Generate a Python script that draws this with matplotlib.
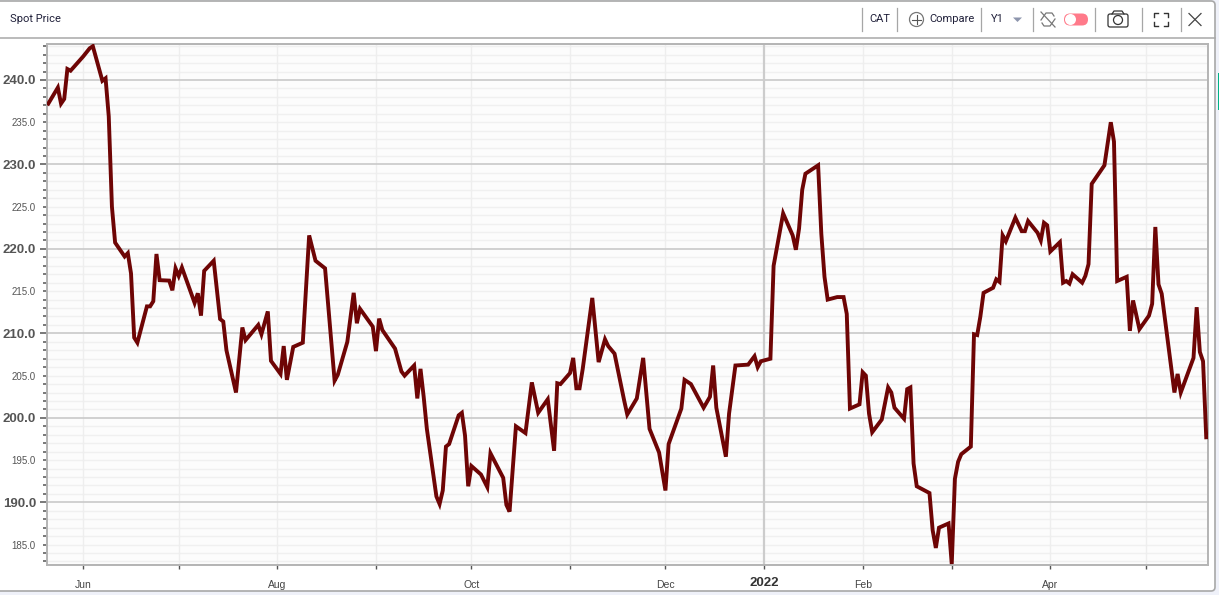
import matplotlib
matplotlib.use('Agg')
from matplotlib import pyplot as plt
from matplotlib.patches import FancyBboxPatch, Circle, Rectangle
import pandas as pd

# days counted from 2021-06-01
day_offsets = [-11, -8, -7, -6, -5, -4, 0, 2, 3, 6, 7, 8, 9, 10, 13, 14, 15, 16, 17, 20, 21, 22, 23, 24,
               27, 28, 29, 30, 31, 35, 36, 37, 38, 41, 43, 44, 45, 48, 50, 51, 55, 56, 58, 59, 62, 63, 64,
               66, 69, 71, 73, 76, 79, 80, 83, 85, 86, 87, 91, 92, 93, 94, 98, 100, 101, 104, 105, 106,
               107, 108, 111, 112, 113, 114, 115, 118, 119, 120, 121, 122, 125, 127, 128, 132, 133, 134,
               136, 139, 141, 143, 146, 148, 149, 150, 153, 154, 155, 156, 157, 160, 162, 164, 165, 167,
               170, 171, 174, 176, 178, 181, 183, 184, 188, 189, 191, 195, 197, 198, 199, 202, 203, 205,
               209, 211, 212, 213, 216, 217, 220, 223, 224, 225, 226, 227, 231, 232, 233, 234, 237, 239,
               240, 241, 244, 245, 246, 247, 248, 251, 253, 254, 255, 258, 259, 260, 261, 262, 266, 267,
               268, 269, 272, 273, 274, 275, 276, 279, 280, 281, 282, 283, 286, 287, 288, 289, 290, 293,
               295, 296, 297, 300, 301, 302, 303, 304, 307, 308, 309, 310, 311, 314, 315, 316, 317, 321,
               323, 324, 325, 328, 329, 330, 332, 335, 336, 337, 338, 339, 343, 344, 345, 349, 350, 351,
               352, 353]
prices = [237.2, 239.1, 237.2, 237.75, 241.3, 241.1, 242.8, 243.75, 244.0, 239.9, 240.2, 235.7, 225.0, 220.75,
          219.1, 219.5, 217.1, 209.5, 208.9, 213.2, 213.2, 213.8, 219.4, 216.3,
          216.25, 215.1, 217.7, 216.8, 217.8, 213.6, 214.75, 212.1, 217.4, 218.6, 211.7, 211.4, 208.0, 203.0,
          210.7, 209.2, 211.0, 209.9, 212.6, 206.75, 205.2, 208.5, 204.5,
          208.4, 208.9, 221.6, 218.6, 217.7, 204.4, 205.1, 209.0, 214.8, 211.2, 212.9, 210.8, 207.9, 211.75,
          210.4, 208.2, 205.5, 205.0, 206.2, 202.3, 205.8,
          202.5, 198.7, 190.7, 189.8, 191.4, 196.6, 196.9, 200.3, 200.6, 197.9, 191.9, 194.3, 193.3, 191.8,
          195.8, 192.9, 189.7, 188.9,
          199.0, 198.2, 204.2, 200.6, 202.2, 196.1, 204.1, 204.0, 205.3, 207.1, 203.5, 203.5, 205.8, 214.2,
          206.6, 209.3, 208.5, 207.6,
          202.1, 200.4, 202.3, 207.1, 198.7, 195.9, 191.4, 196.9, 201.1, 204.5, 204.0, 201.2, 202.5, 206.2,
          201.2, 195.4, 200.5, 206.2,
          206.3, 207.3, 206.0, 206.7, 207.0, 218.0, 224.2, 221.6, 219.9, 222.4, 227.0, 228.9, 229.9, 221.8,
          216.7, 214.0, 214.3, 214.3,
          212.3, 201.1, 201.6, 205.4, 205.0, 200.5, 198.3, 199.8, 203.6, 203.0, 201.2, 199.9, 203.4, 203.6,
          194.6, 191.9, 191.1, 186.7,
          184.6, 187.0, 187.5, 182.7, 192.8, 194.8, 195.7, 196.6, 209.9, 209.8, 212.0, 214.8, 215.4, 216.4,
          216.1, 221.6, 220.9, 223.7,
          222.1, 222.1, 223.3, 221.9, 221.0, 223.1, 222.8, 219.7, 220.8, 216.0, 216.2, 215.9, 217.0, 216.0,
          216.8, 218.2, 227.7, 229.9,
          235.0, 232.7, 216.2, 216.7, 210.3, 213.9, 210.5, 212.1, 213.5, 222.6, 215.8, 214.7, 203.0, 205.2,
          203.0, 207.1, 213.1, 207.8,
          206.7, 197.7]
month_ticks = ['2021-06-01', '2021-07-01', '2021-08-01', '2021-09-01', '2021-10-01', '2021-11-01',
               '2021-12-01', '2022-01-01', '2022-02-01', '2022-03-01', '2022-04-01', '2022-05-01']
month_labels = ['Jun', '', 'Aug', '', 'Oct', '', 'Dec', '2022', 'Feb', '', 'Apr', '']
y_ticks = [185, 190, 195, 200, 205, 210, 215, 220, 225, 230, 235, 240]

W, H = 1219, 595
FONT = ['Liberation Sans', 'DejaVu Sans']
start = pd.Timestamp('2021-06-01')
dates = start + pd.to_timedelta(day_offsets, unit='D')
months = pd.to_datetime(month_ticks)

fig = plt.figure(figsize=(W / 100, H / 100), dpi=100, facecolor='#eff1f9')

# panel and header drawn in pixel coordinates
bg = fig.add_axes([0, 0, 1, 1])
bg.set_xlim(0, W)
bg.set_ylim(H, 0)
bg.axis('off')
bg.add_patch(FancyBboxPatch((-8, 1), 1223, 590, boxstyle='round,pad=0,rounding_size=4',
                            fc='white', ec='#a8a8a8', lw=1.2))
bg.plot([0, 1215], [37.5, 37.5], color='#a8a8a8', lw=1.1)
bg.add_patch(Rectangle((1217.5, 73), 1.5, 37, color='#00b386', lw=0))

for x in [862, 897, 981, 1033, 1095, 1142, 1181]:
    bg.plot([x, x], [8, 31], color='#a6a6a6', lw=0.9)

bg.text(10, 19.5, 'Spot Price', fontsize=8, family='Roboto', color='#20203a', va='center')
bg.text(869, 19.5, 'CAT', fontsize=8, family='Roboto', color='#20203a', va='center')
bg.text(929, 19.5, 'Compare', fontsize=8, family='Roboto', color='#20203a', va='center')
bg.text(991, 19.5, 'Y1', fontsize=8, family='Roboto', color='#20203a', va='center')
bg.add_patch(Circle((916.5, 19.5), 7, fc='none', ec='#777777', lw=0.9))
bg.plot([912, 921], [19.5, 19.5], color='#555555', lw=0.8)
bg.plot([916.5, 916.5], [15, 24], color='#555555', lw=0.8)
bg.fill([1013, 1022, 1017.5], [17.5, 17.5, 22], color='#8d95ad', lw=0)

# sync icon, crossed out
bg.plot([1041, 1046, 1052, 1054], [20, 13, 13, 16], color='#777777', lw=0.9)
bg.plot([1055, 1050, 1044, 1042], [19, 26, 26, 23], color='#777777', lw=0.9)
bg.plot([1041, 1055], [12, 27], color='#777777', lw=0.9)

# toggle
bg.add_patch(FancyBboxPatch((1064, 13.5), 24, 12, boxstyle='round,pad=0,rounding_size=6',
                            fc='#ff7a8a', ec='none', lw=0))
bg.add_patch(Circle((1070.5, 19.5), 5.5, fc='white', ec='none'))

# camera
bg.add_patch(FancyBboxPatch((1108, 14), 20, 13, boxstyle='round,pad=0,rounding_size=2',
                            fc='none', ec='#333333', lw=0.9))
bg.plot([1112, 1114, 1122, 1124], [14, 11, 11, 14], color='#333333', lw=0.9)
bg.add_patch(Circle((1118, 20), 4.5, fc='none', ec='#333333', lw=0.9))

# fullscreen corners
for cx, cy, dx, dy in [(1154, 13, 1, 1), (1168, 13, -1, 1), (1154, 26, 1, -1), (1168, 26, -1, -1)]:
    bg.plot([cx + 4 * dx, cx, cx], [cy, cy, cy + 4 * dy], color='#333333', lw=1)

bg.plot([1189, 1201], [13.5, 25.5], color='#444444', lw=0.9)
bg.plot([1189, 1201], [25.5, 13.5], color='#444444', lw=0.9)

# chart
left, right, top, bottom = 47, 1207.5, 44, 564.5
ax = fig.add_axes([left / W, 1 - bottom / H, (right - left) / W, (bottom - top) / H])
ax.set_facecolor('#fcfcfc')
for sp in ax.spines.values():
    sp.set_color('#b4b4b4')
    sp.set_linewidth(1.4)

ax.set_ylim(182.64, 244.26)
ax.set_xlim(start + pd.Timedelta(days=-11.41), start + pd.Timedelta(days=353.4))

ax.set_yticks(y_ticks)
ax.set_yticks([v for v in range(183, 245) if v % 5 != 0], minor=True)
ax.set_yticklabels(['%.1f' % v for v in y_ticks], family=FONT)
for v, lab in zip(y_ticks, ax.get_yticklabels()):
    if v % 10 == 0:
        lab.set_fontsize(9.5)
        lab.set_fontweight('bold')
        lab.set_color('#555555')
    else:
        lab.set_fontsize(7)
        lab.set_color('#555555')
ax.tick_params(axis='y', which='major', length=5, width=1.1, color='#555555', pad=3)
ax.tick_params(axis='y', which='minor', length=3, width=1.1, color='#555555')
for v, t in zip(y_ticks, ax.yaxis.get_major_ticks()):
    if v % 10 != 0:
        t.tick1line.set_markersize(3)

ax.set_xticks(months)
ax.set_xticklabels(month_labels, family=FONT, fontsize=7.5, color='#444444')
for lab in ax.get_xticklabels():
    if lab.get_text() == '2022':
        lab.set_fontsize(9.5)
        lab.set_fontweight('bold')
        lab.set_color('#333333')
        lab.set_y(0.006)
ax.tick_params(axis='x', length=3, width=1, color='#555555', pad=8)

ax.grid(False)
for v in range(183, 245):
    if v % 10 == 0:
        ax.axhline(v, color='#c9c9c9', lw=1.2, zorder=1)
    else:
        ax.axhline(v, color='#f0f0f0', lw=1.0, zorder=0.5)
for m in months:
    if m == pd.Timestamp('2022-01-01'):
        ax.axvline(m, color='#cccccc', lw=1.6, zorder=1)
    else:
        ax.axvline(m, color='#eeeeee', lw=1.0, zorder=0.8)

ax.plot(dates, prices, color='#6e0505', lw=2.8, solid_joinstyle='miter', zorder=3)

fig.savefig('out.png', dpi=100, facecolor=fig.get_facecolor())
